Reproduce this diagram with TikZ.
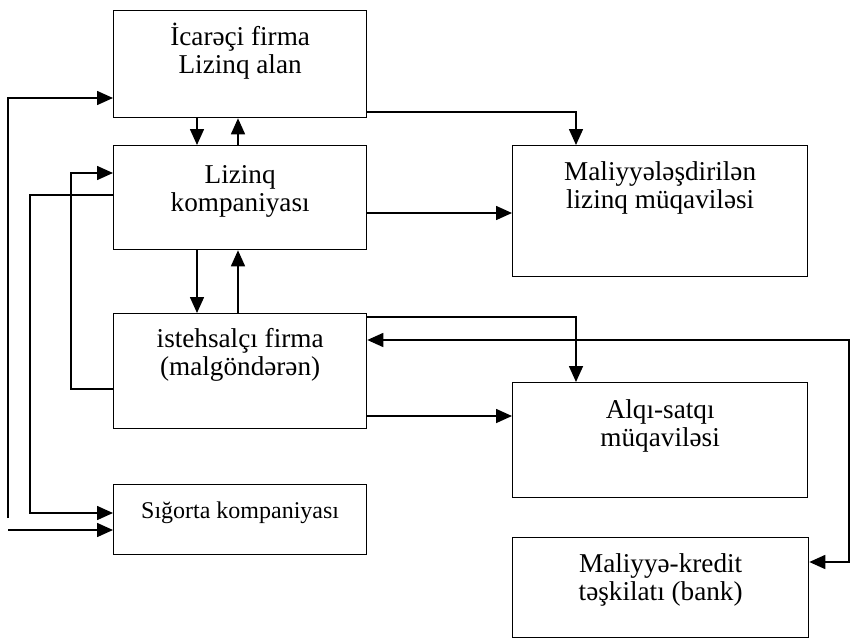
\documentclass[tikz,border=0pt]{standalone}
\usepackage{fontspec}
\setmainfont{Liberation Serif}
\usetikzlibrary{arrows.meta,calc}
\newcommand\capfont{\fontsize{27.2}{28}\selectfont}
\newcommand\smallcapfont{\fontsize{24}{26}\selectfont}
\begin{document}
\begin{tikzpicture}[x=1pt,y=-1pt,
  box/.style={draw, line width=1.3pt, anchor=north west, inner sep=0pt},
  boxtext/.style={anchor=base, align=center, inner sep=0pt, font=\capfont},
  arr/.style={line width=1.6pt, -{Triangle[length=16pt,width=14pt]}},
  arrboth/.style={line width=1.6pt, {Triangle[length=16pt,width=14pt]}-{Triangle[length=16pt,width=14pt]}}]
\useasboundingbox (0,0) rectangle (851,640);

% boxes
\node[box, minimum width=253pt, minimum height=107pt] (A) at (113,10) {};
\node[box, minimum width=253pt, minimum height=104pt] (B) at (113,145) {};
\node[box, minimum width=253pt, minimum height=115pt] (C) at (113,313) {};
\node[box, minimum width=253pt, minimum height=70pt]  (D) at (113,484) {};
\node[box, minimum width=295pt, minimum height=131pt] (E) at (512,145) {};
\node[box, minimum width=295pt, minimum height=115pt] (F) at (512,382) {};
\node[box, minimum width=296pt, minimum height=100pt] (G) at (512,537) {};

% captions; the base anchor of a two-line caption sits on its second line
\node[boxtext] (At) at ($(A.north)+(0,35+28)$) {İcarəçi firma\\Lizinq alan};
\node[boxtext] (Bt) at ($(B.north)+(0,38+28)$) {Lizinq\\kompaniyası};
\node[boxtext] (Ct) at ($(C.north)+(0,34+28)$) {istehsalçı firma\\(malgöndərən)};
\node[boxtext, font=\smallcapfont] (Dt) at ($(D.north)+(0,34)$) {Sığorta kompaniyası};
\node[boxtext] (Et) at ($(E.north)+(0,35+28)$) {Maliyyələşdirilən\\lizinq müqaviləsi};
\node[boxtext] (Ft) at ($(F.north)+(0,36+28)$) {Alqı-satqı\\müqaviləsi};
\node[boxtext] (Gt) at ($(G.north)+(0,35+28)$) {Maliyyə-kredit\\təşkilatı (bank)};

% vertical links between the left column boxes
\coordinate (xl) at (197,0);
\coordinate (xr) at (238,0);
\draw[arr] (A.south -| xl) -- (B.north -| xl);
\draw[arr] (B.north -| xr) -- (A.south -| xr);
\draw[arr] (B.south -| xl) -- (C.north -| xl);
\draw[arr] (C.north -| xr) -- (B.south -| xr);

% links to the contracts
\coordinate (ae) at (576,112);
\draw[arr] (A.east |- ae) -- (ae) -- (E.north -| ae);
\coordinate (be) at (0,213);
\draw[arr] (B.east |- be) -- (E.west |- be);
\coordinate (cf) at (576,317);
\draw[arr] (C.east |- cf) -- (cf) -- (F.north -| cf);
\coordinate (cf2) at (0,416);
\draw[arr] (C.east |- cf2) -- (F.west |- cf2);

% bank loop
\coordinate (g1) at (849,340);
\coordinate (g2) at (849,562);
\draw[arrboth] (C.east |- g1) -- (g1) -- (g2) -- (G.east |- g2);

% left side loops
\coordinate (o1) at (8,518);
\coordinate (o2) at (8,530);
\draw[arr] (o1) -- (8,98) -- (A.west |- 0,98);
\draw[arr] (o2) -- (D.west |- o2);
\coordinate (k1) at (30,195);
\coordinate (k2) at (30,513);
\draw[arr] (B.west |- k1) -- (k1) -- (k2) -- (D.west |- k2);
\coordinate (m1) at (71,389);
\coordinate (m2) at (71,173);
\draw[arr] (C.west |- m1) -- (m1) -- (m2) -- (B.west |- m2);
\end{tikzpicture}
\end{document}
